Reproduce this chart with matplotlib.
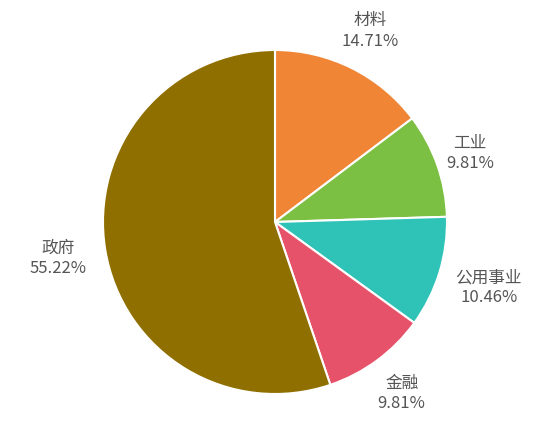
import numpy as np
import matplotlib
matplotlib.use("Agg")
import matplotlib.pyplot as plt

plt.rcParams['font.family'] = ['Noto Sans CJK SC', 'DejaVu Sans']

# 数据
labels = ['材料', '工业', '公用事业', '金融', '政府']
values = [14.71, 9.81, 10.46, 9.81, 55.22]
colors = ['#EF8535', '#7BBF43', '#2FC3B8', '#E6526A', '#8F6F00']

fig = plt.figure(figsize=(5.5, 4.24), dpi=100)
cx, cy, r = 275, 222, 172
ax = fig.add_axes([(cx - r) / 550, (424 - cy - r) / 424, 2 * r / 550, 2 * r / 424])

wedges, _ = ax.pie(values, colors=colors, startangle=90, counterclock=False,
                   radius=1, wedgeprops=dict(edgecolor='white', linewidth=1.5))
ax.set_xlim(-1, 1)
ax.set_ylim(-1, 1)
ax.set_aspect('equal')
ax.axis('off')

# 标签
total = sum(values)
dist = [1.24, 1.2, 1.3, 1.24, 1.28]
cum = 0
for i, (lab, v) in enumerate(zip(labels, values)):
    mid = 90 - (cum + v / 2) / total * 360
    cum += v
    a = np.deg2rad(mid)
    x, y = dist[i] * np.cos(a), dist[i] * np.sin(a)
    ax.text(x, y, f'{lab}\n{v:.2f}%', ha='center', va='center', fontsize=12,
            color='#555555', linespacing=1.25, clip_on=False)

fig.savefig('out.png', dpi=100)
